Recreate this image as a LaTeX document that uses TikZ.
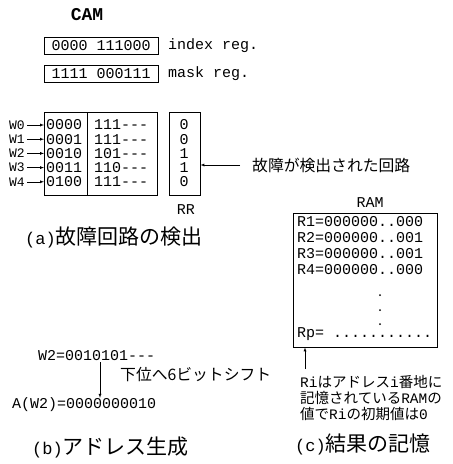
\documentclass[tikz,border=0pt]{standalone}
\usepackage{fontspec}
\setmonofont{Liberation Mono}
\newfontfamily\jpfont{Noto Sans CJK JP}
\newcommand\jp[1]{{\jpfont #1}}
\newcommand\capj[1]{{\jpfont\fontsize{21}{21}\selectfont #1}}
\usetikzlibrary{positioning}

\begin{document}
\begin{tikzpicture}[x=1pt,y=-1pt,
		tt/.style={font=\ttfamily\fontsize{15}{15}\selectfont,inner sep=0pt},
		small/.style={font=\ttfamily\fontsize{13}{13}\selectfont,inner sep=0pt},
		jptext/.style={font=\jpfont\fontsize{15.8}{15.8}\selectfont,inner sep=0pt},
		note/.style={font=\ttfamily\fontsize{14.5}{16}\selectfont,inner sep=0pt,align=left},
		capt/.style={font=\ttfamily\fontsize{17}{17}\selectfont,inner sep=0pt},
		reg/.style={draw,tt,minimum width=114,minimum height=17,anchor=west}]
		\useasboundingbox (0,0) rectangle (453,464);
		
		% (a) CAM
		\node[tt,font=\ttfamily\bfseries\fontsize{18}{18}\selectfont] (cam) at (87,15) {CAM};
		\node[reg] (idx) at (44,46) {0000 111000};
		\node[reg] (msk) at (44,74) {1111 000111};
		\node[tt,anchor=west] (idxl) at (168,46) {index reg.};
		\node[tt,anchor=west] (mskl) at (168,74) {mask reg.};
		
		\node[draw,minimum width=113,minimum height=83,anchor=north west] (tab) at (44,112) {};
		\draw (87,112) -- (87,195);
		\node[draw,minimum width=31,minimum height=83,anchor=north west] (rr) at (169,112) {};
		\foreach \w/\a/\b/\r [count=\i from 0] in {0/0000/111---/0,1/0001/111---/0,2/0010/101---/1,3/0011/110---/1,4/0100/111---/0}{
			\node[tt,anchor=west] (a\i) at (46,125+14.2*\i) {\a};
			\node[tt,anchor=west] (b\i) at (94,125+14.2*\i) {\b};
			\node[tt] (r\i) at (184,125+14.2*\i) {\r};
			\node[small,anchor=east] (w\i) at (25,125+14.2*\i) {W\w};
			\draw[-latex] (w\i.east) ++(2,0) -- (w\i -| tab.west);
		}
		\node[tt] (rrl) at (186,210) {RR};
		\node[jptext,anchor=west] (fault) at (252,165) {故障が検出された回路};
		\draw[-latex] ([xshift=-12pt]fault.west) -- (fault.west -| rr.east);
		\node[capt,anchor=west] (capa) at (25,237) {(a)\capj{故障回路の検出}};
		
		% (b) address
		\node[tt,anchor=west] (w2) at (38,356) {W2=0010101---};
		\node[tt,anchor=west] (aw2) at (12,405) {A(W2)=0000000010};
		\coordinate (sh) at (100,362);
		\draw[-latex] (sh) -- (sh |- aw2.north);
		\node[jptext,anchor=west] (shl) at (120,375) {下位へ6ビットシフト};
		\node[capt,anchor=west] (capb) at (32,447) {(b)\capj{アドレス生成}};
		
		% (c) RAM
		\node[tt] (ram) at (370,203) {RAM};
		\node[draw,minimum width=144,minimum height=134,anchor=north west] (mem) at (293,213) {};
		\foreach \v [count=\i] in {000,001,001,000}
			\node[tt,anchor=west] (m\i) at (297,206+16*\i) {R\i=000000..\v};
		\foreach \y in {295,310,324}
			\fill (380,\y) circle (1);
		\node[tt,anchor=west] (rp) at (297,334) {Rp= ...........};
		\node[note,anchor=north west] (ri) at (300,375) {Ri\jp{はアドレス}i\jp{番地に}\\\jp{記憶されている}RAM\jp{の}\\\jp{値で}Ri\jp{の初期値は}0};
		\coordinate (nt) at (305,369);
		\draw[-latex] (nt) -- (nt |- mem.south);
		\node[capt,anchor=west] (capc) at (295,444) {(c)\capj{結果の記憶}};
\end{tikzpicture}
\end{document}
